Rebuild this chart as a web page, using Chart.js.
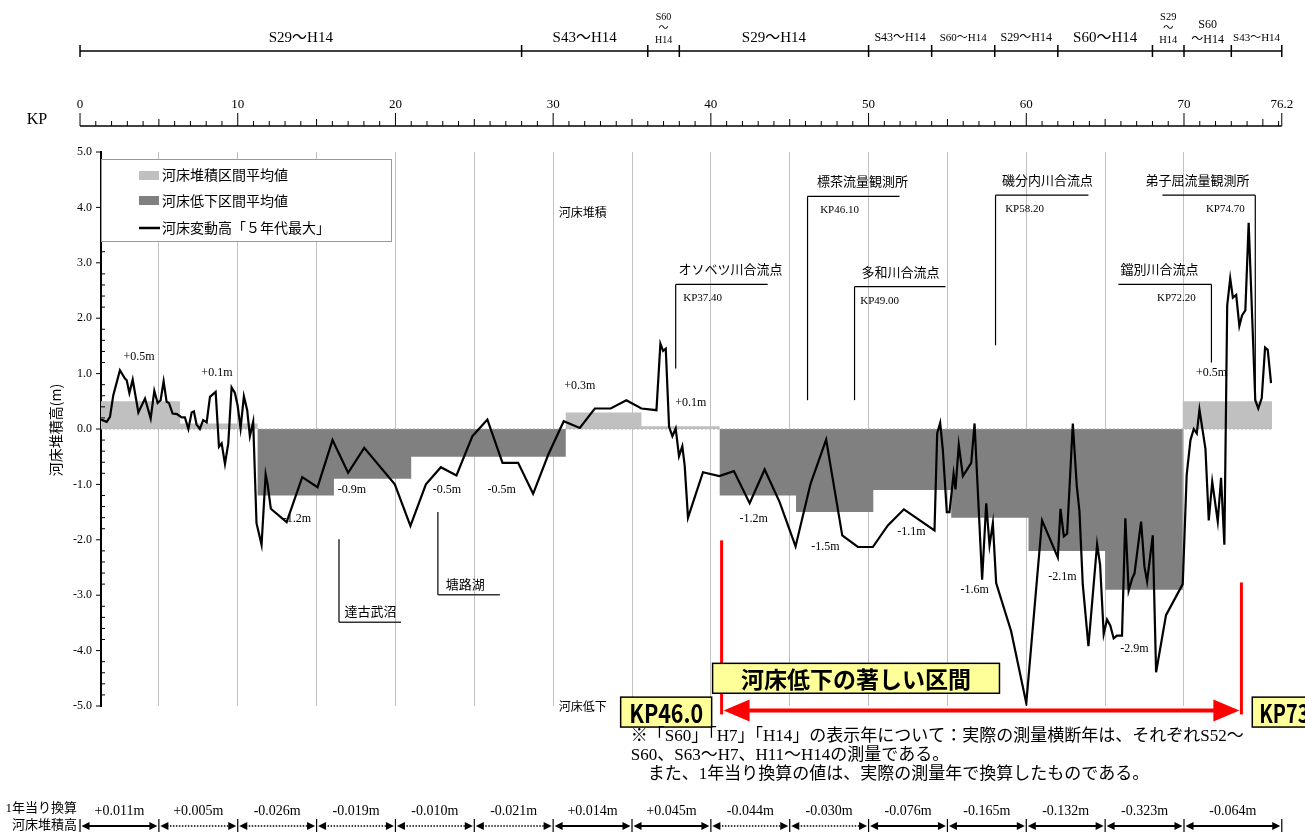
<!DOCTYPE html>
<html lang="ja">
<head>
<meta charset="utf-8">
<title>河床変動高</title>
<script src="https://cdn.jsdelivr.net/npm/chart.js@4.4.1/dist/chart.umd.min.js"></script>
<style>
  html, body { margin: 0; padding: 0; background: #fff; }
  #wrap { position: relative; width: 1305px; height: 832px; }
</style>
</head>
<body>
<div id="wrap"><canvas id="riverbed"></canvas></div>
<script>
"use strict";

// 河床変動高「5年代最大」 (KP, m)
var kpPoints = [1.33, 1.69, 1.90, 2.11, 2.53, 2.85, 2.96, 3.13, 3.34, 3.70, 4.12, 4.48, 4.71, 4.92, 5.11, 5.30, 5.49, 5.64, 5.87, 6.15,
  6.44, 6.65, 6.87, 7.08, 7.22, 7.39, 7.60, 7.81, 8.03, 8.24, 8.60, 8.81, 8.98, 9.19, 9.40, 9.61, 9.82, 9.99, 10.18, 10.39,
  10.60, 10.77, 10.98, 11.19, 11.51, 11.77, 11.89, 12.10, 13.10, 14.09, 15.06, 16.01, 17.00, 18.02, 19.96, 20.95, 21.93, 22.88, 23.87, 24.88,
  25.83, 26.79, 27.78, 28.73, 29.68, 30.67, 31.69, 32.64, 33.65, 34.64, 35.60, 36.55, 36.80, 36.97, 37.14, 37.35, 37.56, 37.77, 37.98, 38.19,
  38.34, 38.55, 39.50, 40.53, 41.46, 42.46, 43.41, 44.36, 45.37, 46.32, 47.31, 48.33, 49.32, 50.27, 51.22, 52.24, 54.18, 54.35, 54.54, 54.71,
  54.96, 55.13, 55.39, 55.51, 55.72, 55.98, 56.51, 56.72, 57.20, 57.46, 57.67, 57.88, 58.09, 59.04, 60.00, 61.00, 62.00, 62.17, 62.38, 62.59,
  62.95, 63.20, 63.37, 63.58, 63.94, 64.49, 64.68, 64.91, 65.12, 65.33, 65.54, 65.75, 66.07, 66.28, 66.49, 66.71, 66.86, 67.28, 67.49, 67.66,
  68.02, 68.23, 68.86, 69.92, 70.17, 70.41, 70.62, 70.81, 70.98, 71.36, 71.57, 71.79, 72.14, 72.35, 72.56, 72.74, 72.93, 73.10, 73.31, 73.51,
  73.68, 73.89, 74.10, 74.52, 74.71, 74.93, 75.14, 75.31, 75.52];
var bedChange = [0.17, 0.13, 0.22, 0.61, 1.06, 0.91, 0.88, 0.65, 0.89, 0.30, 0.55, 0.19, 0.69, 0.47, 0.52, 0.86, 0.49, 0.47, 0.28, 0.27,
  0.21, 0.21, 0.00, 0.30, 0.32, 0.08, 0.00, 0.16, 0.12, 0.58, 0.67, -0.32, -0.26, -0.63, -0.26, 0.75, 0.65, 0.43, 0.01, 0.59,
  0.34, -0.13, 0.13, -1.70, -2.09, -0.82, -0.99, -1.44, -1.68, -0.87, -1.05, -0.20, -0.79, -0.34, -1.00, -1.75, -1.00, -0.69, -0.84, -0.13,
  0.17, -0.61, -0.61, -1.17, -0.47, 0.14, 0.02, 0.37, 0.37, 0.52, 0.37, 0.34, 1.54, 1.41, 1.45, 0.04, -0.13, 0.01, -0.49, -0.31,
  -0.66, -1.60, -0.78, -0.85, -0.76, -1.34, -0.73, -1.32, -2.12, -0.99, -0.19, -1.92, -2.13, -2.13, -1.74, -1.45, -1.83, -0.08, 0.11, -0.38,
  -1.50, -1.50, -0.81, -1.09, -0.29, -0.85, -0.61, 0.10, -2.72, -1.34, -2.10, -1.70, -2.78, -3.65, -4.95, -1.65, -2.32, -1.44, -1.94, -1.89,
  0.10, -1.02, -1.48, -2.80, -3.92, -2.08, -2.45, -3.70, -3.44, -3.55, -3.78, -3.73, -3.73, -1.61, -2.92, -2.70, -2.61, -1.67, -2.48, -2.75,
  -1.92, -4.39, -3.36, -2.80, -0.83, -0.20, 0.00, -0.08, 0.35, -0.36, -1.65, -0.95, -1.67, -0.88, -2.09, 2.23, 2.72, 2.37, 2.42, 1.86,
  2.05, 2.14, 3.72, 0.52, 0.37, 0.56, 1.47, 1.43, 0.83];

// 区間平均値 (堆積 / 低下)
var secFrom = [1.33, 6.34, 11.26, 16.1, 21.0, 30.8, 35.6, 40.56, 45.4, 50.3, 55.24, 60.14, 65.0, 69.92];
var secTo = [6.34, 11.26, 16.1, 21.0, 30.8, 35.6, 40.56, 45.4, 50.3, 55.24, 60.14, 65.0, 69.92, 75.58];
var secAvg = [0.5, 0.1, -1.2, -0.9, -0.5, 0.3, 0.05, -1.2, -1.5, -1.1, -1.6, -2.2, -2.9, 0.5];
var secLabel = ['+0.5m', '+0.1m', '-1.2m', '-0.9m', '-0.5m', '-0.5m', '+0.3m', '+0.1m', '-1.2m', '-1.5m', '-1.1m', '-1.6m', '-2.1m', '-2.9m', '+0.5m'];

// 測量年の区間
var periodKp = [0, 28, 36, 38, 50, 54, 58, 62, 68, 70, 73, 76.2];
var periodLabel = ['S29〜H14', 'S43〜H14', 'S60〜H14', 'S29〜H14', 'S43〜H14', 'S60〜H14', 'S29〜H14', 'S60〜H14', 'S29〜H14', 'S60〜H14', 'S43〜H14'];

// KP目盛
var kpMajor = [0, 10, 20, 30, 40, 50, 60, 70, 76.2];

// 1年当り換算河床堆積高
var rateKp = [0, 5, 10, 15, 20, 25, 30, 35, 40, 45, 50, 55, 60, 65, 70, 76.2];
var annualRate = ['+0.011m', '+0.005m', '-0.026m', '-0.019m', '-0.010m', '-0.021m', '+0.014m', '+0.045m', '-0.044m', '-0.030m', '-0.076m', '-0.165m', '-0.132m', '-0.323m', '-0.064m'];
var rateDotted = [false, true, true, true, true, true, false, false, true, true, false, false, false, false, false];

// 地点
var stationName = ['オソベツ川合流点', '標茶流量観測所', '多和川合流点', '磯分内川合流点', '鐺別川合流点', '弟子屈流量観測所'];
var stationKp = ['KP37.40', 'KP46.10', 'KP49.00', 'KP58.20', 'KP72.20', 'KP74.70'];
var lakeName = ['達古武沼', '塘路湖'];

// ---- layout of annotations (KP / m units) ----
var secLabelPos = [[3.74, 1.31], [8.68, 1.02], [13.75, -1.62], [17.24, -1.09], [23.26, -1.09], [26.74, -1.09], [31.69, 0.77], [38.72, 0.48],
  [42.71, -1.62], [47.27, -2.12], [52.72, -1.86], [56.72, -2.91], [62.29, -2.66], [66.86, -3.96], [71.74, 1.02]];
var stationPos = [
  { vx: 37.77, h0: 37.77, h1: 43.60, top: 2.61, bot: 1.09, nx: 41.25, kx: 39.48 },
  { vx: 46.13, h0: 46.13, h1: 51.96, top: 4.20, bot: 0.52, nx: 49.62, kx: 48.16 },
  { vx: 49.11, h0: 49.11, h1: 54.88, top: 2.57, bot: 0.52, nx: 52.03, kx: 50.70 },
  { vx: 58.05, h0: 58.05, h1: 63.94, top: 4.22, bot: 1.51, nx: 61.34, kx: 59.89 },
  { vx: 71.74, h0: 65.84, h1: 71.74, top: 2.61, bot: 1.20, nx: 68.44, kx: 69.52 },
  { vx: 74.52, h0: 68.63, h1: 74.52, top: 4.22, bot: 0.52, nx: 70.85, kx: 72.62 }
];
var lakePos = [
  { vx: 16.42, top: -1.99, bot: -3.49, h1: 20.35, tx: 18.42, ty: -3.29 },
  { vx: 22.69, top: -1.50, bot: -2.99, h1: 26.62, tx: 24.43, ty: -2.79 }
];

var SERIF = '"Liberation Serif", "Noto Sans CJK JP", serif';
var GOTHIC = '"Noto Sans CJK JP", sans-serif';

var lineData = kpPoints.map(function (k, i) { return { x: k, y: bedChange[i] }; });
var sectionData = [];
secFrom.forEach(function (s, i) {
  sectionData.push({ x: s, y: secAvg[i] });
  sectionData.push({ x: secTo[i], y: secAvg[i] });
});
var zeroData = [{ x: secFrom[0], y: 0 }, { x: secTo[secTo.length - 1], y: 0 }];

function seg(ctx, x1, y1, x2, y2) {
  ctx.beginPath();
  ctx.moveTo(x1, y1);
  ctx.lineTo(x2, y2);
  ctx.stroke();
}

function txt(ctx, s, x, y, font, align, maxW) {
  ctx.font = font;
  ctx.textAlign = align || 'center';
  ctx.textBaseline = 'middle';
  if (maxW) ctx.fillText(s, x, y, maxW); else ctx.fillText(s, x, y);
}

function head(ctx, tipX, y, dir, len, half) {
  ctx.beginPath();
  ctx.moveTo(tipX, y);
  ctx.lineTo(tipX - dir * len, y - half);
  ctx.lineTo(tipX - dir * len, y + half);
  ctx.closePath();
  ctx.fill();
}

var overlay = {
  id: 'overlay',
  afterDraw: function (chart) {
    var ctx = chart.ctx;
    var xs = chart.scales.x, ys = chart.scales.y;
    var X = function (k) { return xs.getPixelForValue(k); };
    var Y = function (v) { return ys.getPixelForValue(v); };
    var area = chart.chartArea;
    ctx.save();
    ctx.fillStyle = '#000';
    ctx.strokeStyle = '#000';

    // y axis minor / major ticks
    ctx.lineWidth = 1;
    for (var i = -25; i <= 25; i++) {
      var yy = Y(i * 0.2);
      if (i % 5 === 0) seg(ctx, area.left - 5, yy, area.left, yy);
      else seg(ctx, area.left, yy, area.left + 4, yy);
    }

    // period row
    var yP = 51;
    ctx.lineWidth = 1.5;
    seg(ctx, X(periodKp[0]), yP, X(periodKp[periodKp.length - 1]), yP);
    periodKp.forEach(function (k) { seg(ctx, X(k), yP - 6, X(k), yP + 6); });
    var pSize = [15, 15, 10, 15, 12, 11, 12, 15, 10.5, 12, 11];
    periodLabel.forEach(function (lab, i) {
      var cx = (X(periodKp[i]) + X(periodKp[i + 1])) / 2;
      var f = pSize[i] + 'px ' + SERIF;
      var parts = lab.split('〜');
      if (i === 2 || i === 8) {
        txt(ctx, parts[0], cx, 17, f);
        txt(ctx, '〜', cx, 28, f);
        txt(ctx, parts[1], cx, 40, f);
      } else if (i === 9) {
        txt(ctx, parts[0], cx, 25, f);
        txt(ctx, '〜' + parts[1], cx, 40, f);
      } else {
        txt(ctx, lab, cx, 38, f);
      }
    });

    // KP ruler
    var yR = 126;
    seg(ctx, X(0), yR, X(76.2), yR);
    ctx.lineWidth = 1;
    for (var k = 0; k <= 76; k++) {
      var h = k % 10 === 0 ? 13 : (k % 5 === 0 ? 7 : 5);
      seg(ctx, X(k), yR - h, X(k), yR);
    }
    seg(ctx, X(76.2), yR - 13, X(76.2), yR);
    kpMajor.forEach(function (k) {
      txt(ctx, k === 76.2 ? '76.2' : String(k), X(k), 105, '13px ' + SERIF);
    });
    txt(ctx, 'KP', 37, 120, '16px ' + SERIF);

    // y axis title
    ctx.save();
    ctx.translate(56, 430);
    ctx.rotate(-Math.PI / 2);
    txt(ctx, '河床堆積高(m)', 0, 0, '14px ' + GOTHIC);
    ctx.restore();

    // legend
    ctx.fillStyle = '#fff';
    ctx.fillRect(101, 159, 290, 82);
    ctx.strokeStyle = '#999';
    ctx.lineWidth = 1;
    ctx.strokeRect(101.5, 159.5, 290, 82);
    ctx.fillStyle = '#c0c0c0';
    ctx.fillRect(139, 171, 20, 9);
    ctx.fillStyle = '#808080';
    ctx.fillRect(139, 196, 20, 9);
    ctx.strokeStyle = '#000';
    ctx.lineWidth = 2.5;
    seg(ctx, 139, 228, 160, 228);
    ctx.fillStyle = '#000';
    txt(ctx, '河床堆積区間平均値', 162, 175, '14px ' + GOTHIC, 'left');
    txt(ctx, '河床低下区間平均値', 162, 201, '14px ' + GOTHIC, 'left');
    txt(ctx, '河床変動高「５年代最大」', 162, 228, '14px ' + GOTHIC, 'left');

    // section labels
    secLabel.forEach(function (s, i) {
      txt(ctx, s, X(secLabelPos[i][0]), Y(secLabelPos[i][1]), '12px ' + SERIF);
    });

    // stations
    ctx.lineWidth = 1.2;
    stationPos.forEach(function (p, i) {
      seg(ctx, X(p.h0), Y(p.top), X(p.h1), Y(p.top));
      seg(ctx, X(p.vx), Y(p.top), X(p.vx), Y(p.bot));
      txt(ctx, stationName[i], X(p.nx), Y(p.top) - 15, '13px ' + GOTHIC);
      txt(ctx, stationKp[i], X(p.kx), Y(p.top) + 14, '11px ' + SERIF);
    });

    // lakes
    ctx.strokeStyle = '#333';
    ctx.lineWidth = 1.5;
    lakePos.forEach(function (p, i) {
      seg(ctx, X(p.vx), Y(p.top), X(p.vx), Y(p.bot));
      seg(ctx, X(p.vx), Y(p.bot), X(p.h1), Y(p.bot));
      txt(ctx, lakeName[i], X(p.tx), Y(p.ty), '13px ' + GOTHIC);
    });

    txt(ctx, '河床堆積', X(31.88), Y(3.91), '12px ' + GOTHIC);
    txt(ctx, '河床低下', X(31.88), Y(-5.0), '12px ' + GOTHIC);

    // red range
    var rL = X(40.68), rR = X(73.64), yA = Y(-5.08);
    ctx.strokeStyle = '#ff0000';
    ctx.fillStyle = '#ff0000';
    ctx.lineWidth = 3;
    seg(ctx, rL, Y(-2.01), rL, yA + 4);
    seg(ctx, rR, Y(-2.77), rR, yA + 4);
    ctx.lineWidth = 4;
    seg(ctx, rL + 20, yA, rR - 20, yA);
    head(ctx, rL + 2, yA, -1, 26, 11);
    head(ctx, rR - 2, yA, 1, 26, 11);

    // yellow boxes
    ctx.strokeStyle = '#000';
    ctx.lineWidth = 1.5;
    function ybox(k0, k1, v0, v1, s, font, maxW, pad) {
      var x0 = X(k0), x1 = X(k1), y0 = Y(v0), y1 = Y(v1);
      ctx.fillStyle = '#ffff99';
      ctx.fillRect(x0, y0, x1 - x0, y1 - y0);
      ctx.strokeRect(x0, y0, x1 - x0, y1 - y0);
      ctx.fillStyle = '#000';
      if (pad) txt(ctx, s, x0 + pad, (y0 + y1) / 2 + 1, font, 'left', maxW);
      else txt(ctx, s, (x0 + x1) / 2, (y0 + y1) / 2 + 1, font, 'center', maxW);
    }
    ybox(40.11, 58.3, -4.23, -4.77, '河床低下の著しい区間', 'bold 23px ' + GOTHIC, 250);
    ybox(34.28, 40.05, -4.84, -5.38, 'KP46.0', 'bold 26px ' + GOTHIC, 74);
    ybox(74.33, 80, -4.84, -5.38, 'KP73', 'bold 26px ' + GOTHIC, 50, 7);

    // notes
    ctx.fillStyle = '#000';
    var nx = X(34.92);
    txt(ctx, '※「S60」「H7」「H14」の表示年について：実際の測量横断年は、それぞれS52〜', nx, 737, '17px ' + SERIF, 'left', 662);
    txt(ctx, 'S60、S63〜H7、H11〜H14の測量である。', nx, 756, '17px ' + SERIF, 'left');
    txt(ctx, '　また、1年当り換算の値は、実際の測量年で換算したものである。', nx, 775, '17px ' + SERIF, 'left');

    // annual rate row
    var yB = 826;
    ctx.strokeStyle = '#000';
    ctx.fillStyle = '#000';
    rateKp.forEach(function (k) {
      ctx.lineWidth = 1.2;
      seg(ctx, X(k), yB - 7, X(k), yB + 7);
    });
    annualRate.forEach(function (s, i) {
      var a = X(rateKp[i]), b = X(rateKp[i + 1]);
      ctx.lineWidth = rateDotted[i] ? 1.5 : 2;
      ctx.setLineDash(rateDotted[i] ? [1.5, 1.5] : []);
      seg(ctx, a + 8, yB, b - 8, yB);
      ctx.setLineDash([]);
      head(ctx, a + 1.5, yB, -1, 8, 4);
      head(ctx, b - 1.5, yB, 1, 8, 4);
      txt(ctx, s, (a + b) / 2, 811, '14px ' + SERIF);
    });
    txt(ctx, '1年当り換算', 77, 809, '13px ' + SERIF, 'right');
    txt(ctx, '河床堆積高', 77, 826, '13px ' + SERIF, 'right');

    ctx.restore();
  }
};

new Chart(document.getElementById('riverbed'), {
  type: 'line',
  data: {
    datasets: [
      {
        label: '河床変動高「５年代最大」',
        data: lineData,
        borderColor: '#000',
        borderWidth: 2.2,
        pointRadius: 0,
        tension: 0,
        fill: false,
        order: 0
      },
      {
        label: 'zero',
        data: zeroData,
        borderColor: '#b0b0b0',
        borderWidth: 1,
        borderDash: [2, 2],
        pointRadius: 0,
        fill: false,
        order: 1
      },
      {
        label: '区間平均値',
        data: sectionData,
        borderWidth: 0,
        borderColor: 'rgba(0,0,0,0)',
        pointRadius: 0,
        tension: 0,
        fill: { target: 'origin', above: '#c0c0c0', below: '#808080' },
        order: 2
      }
    ]
  },
  options: {
    responsive: true,
    maintainAspectRatio: false,
    animation: false,
    events: [],
    layout: { padding: { top: 152, right: 33, bottom: 126, left: 0 } },
    plugins: { legend: { display: false }, tooltip: { enabled: false } },
    scales: {
      x: {
        type: 'linear',
        min: 1.33,
        max: 75.58,
        ticks: { display: false, stepSize: 5 },
        border: { display: false },
        grid: {
          drawTicks: false,
          lineWidth: 1,
          color: function (c) {
            var v = c.tick ? c.tick.value : 0;
            return (v % 5 === 0 && v >= 5 && v <= 70) ? '#c0c0c0' : 'rgba(0,0,0,0)';
          }
        },
        afterFit: function (s) { s.height = 0; }
      },
      y: {
        min: -5,
        max: 5,
        ticks: {
          stepSize: 1,
          color: '#000',
          padding: 9,
          font: { family: SERIF, size: 12 },
          callback: function (v) { return v.toFixed(1); }
        },
        border: { display: true, color: '#000', width: 2 },
        grid: { drawOnChartArea: false, drawTicks: false },
        afterFit: function (s) { s.width = 101; }
      }
    }
  },
  plugins: [overlay]
});
</script>
</body>
</html>
